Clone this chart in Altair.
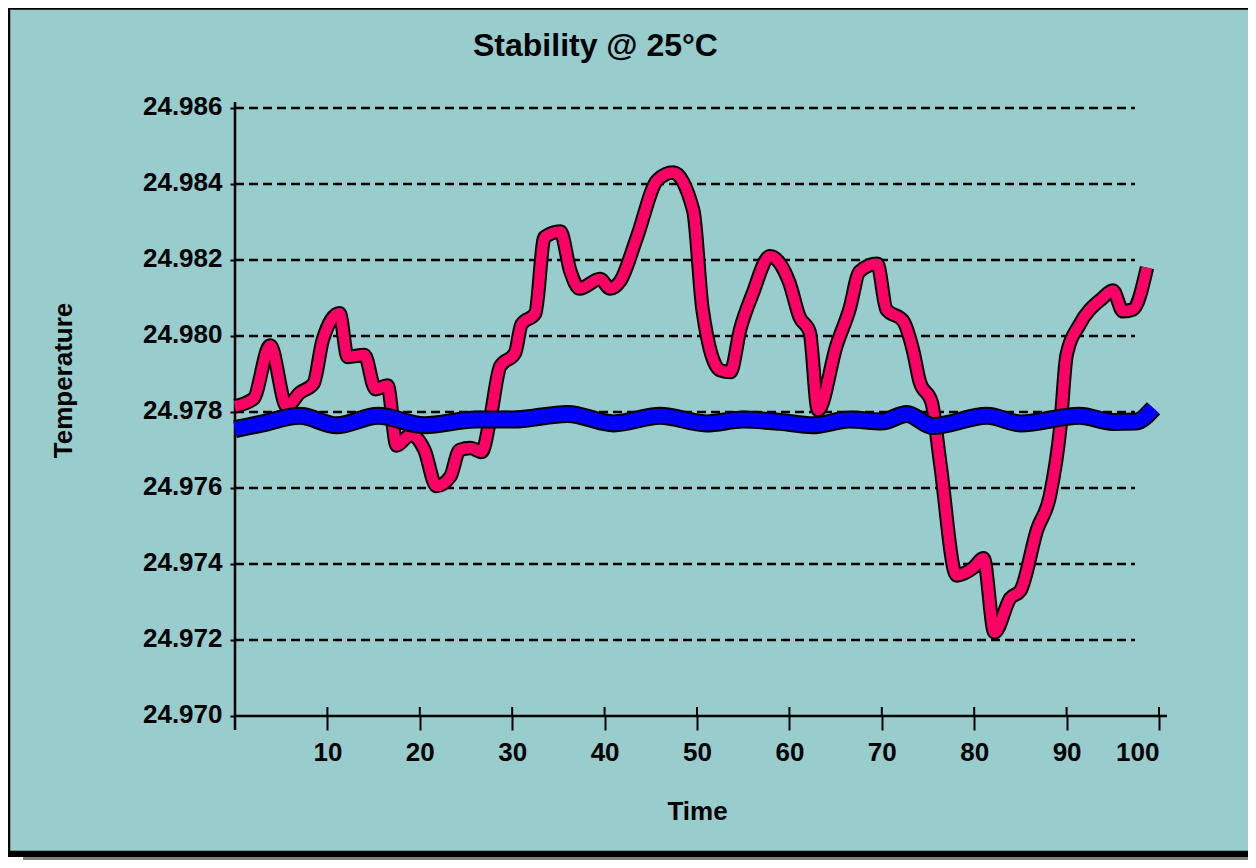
import altair as alt
import pandas as pd

# ---- data ----
red_t = [0, 2, 3.8, 5.6, 7, 8.5, 9.5, 11.3, 12.2, 14, 15.2, 16.5, 17.5, 19, 20.5, 21.8,
         23.3, 24.3, 25.5, 26.7, 27.6, 28.7, 30.3, 31, 32.5, 33.5, 35.2, 36.3, 37.3, 39.5,
         40.6, 41.7, 43.5, 45.7, 47.4, 49.6, 50.6, 52.5, 53.6, 54.7, 56, 57.9, 59, 60,
         61.1, 62.2, 63.1, 65.1, 66.5, 67.6, 69.5, 70.5, 72.3, 73.4, 74.1, 75.4, 76.3,
         78.1, 79.9, 81, 82.2, 83.9, 85, 86.8, 88.2, 89.3, 90, 91.4, 93.9, 95, 96.1, 97.2, 98.7]
red_v = [24.97815, 24.97835, 24.97975, 24.97815, 24.97850, 24.97875, 24.97990, 24.98060,
         24.97945, 24.97950, 24.97860, 24.97870, 24.97712, 24.97740, 24.97700, 24.97605,
         24.97630, 24.97700, 24.97705, 24.97695, 24.97780, 24.97920, 24.97955, 24.98030,
         24.98060, 24.98260, 24.98275, 24.98170, 24.98125, 24.98150, 24.98125, 24.98145,
         24.98260, 24.98410, 24.98430, 24.98330, 24.98070, 24.97910, 24.97905, 24.98020,
         24.98110, 24.98210, 24.98190, 24.98140, 24.98050, 24.98010, 24.97805, 24.97975,
         24.98070, 24.98170, 24.98190, 24.98070, 24.98040, 24.97960, 24.97880, 24.97825,
         24.97670, 24.97370, 24.97390, 24.97415, 24.97220, 24.97310, 24.97330, 24.97490,
         24.97580, 24.97755, 24.97950, 24.98030, 24.98100, 24.98120, 24.98065, 24.98070,
         24.98180]

blue_t = [0, 3, 7, 11, 15.5, 20.5, 26, 30, 36, 41, 46, 51, 55, 59, 62.5, 66.5, 70, 72.7,
          75.5, 81.4, 85, 91.4, 95, 97.5, 99.4]
blue_v = [24.97755, 24.97770, 24.97790, 24.97765, 24.97790, 24.97765, 24.97780, 24.97780,
          24.97795, 24.97770, 24.97790, 24.97770, 24.97780, 24.97774, 24.97765, 24.97780,
          24.97775, 24.97795, 24.97763, 24.97790, 24.97770, 24.97790, 24.97774, 24.97775,
          24.97810]

grid_values = [24.972, 24.974, 24.976, 24.978, 24.980, 24.982, 24.984, 24.986]
y_ticks = [24.970, 24.972, 24.974, 24.976, 24.978, 24.980, 24.982, 24.984, 24.986]
x_ticks = [10, 20, 30, 40, 50, 60, 70, 80, 90, 100]

title_text = "Stability @ 25°C"
x_title = "Time"
y_title = "Temperature"

# ---- layout ----
W, H = 924, 608
FONT = "Liberation Sans"
BG = "#99CCCC"

red_df = pd.DataFrame({"t": red_t, "v": red_v})
blue_df = pd.DataFrame({"t": blue_t, "v": blue_v})
grid_df = pd.DataFrame({"g": grid_values})
xt_df = pd.DataFrame({"xt": x_ticks})
yt_df = pd.DataFrame({"yt": y_ticks})
one = alt.Data(values=[{}])

xs = alt.Scale(domain=[0, 100], nice=False, zero=False)
ys = alt.Scale(domain=[24.970, 24.986], nice=False, zero=False)

x_axis = alt.Axis(values=x_ticks, tickSize=14, tickWidth=2, tickColor="black",
                  domain=False, grid=False, labelFont=FONT, labelFontSize=26,
                  labelFontWeight="bold", labelColor="black", labelPadding=22,
                  labelBaseline="middle", title=x_title, titleFont=FONT,
                  titleFontSize=26, titleFontWeight="bold", titleColor="black",
                  titleX=462, titleY=95, titleAlign="center", titleBaseline="middle",
                  zindex=1)
y_axis = alt.Axis(values=y_ticks, format=".3f", tickSize=5, tickWidth=2,
                  tickColor="black", domain=False, grid=False, labelFont=FONT,
                  labelFontSize=26, labelFontWeight="bold", labelColor="black",
                  labelPadding=8, labelOffset=-2, title=y_title, titleFont=FONT,
                  titleFontSize=26, titleFontWeight="bold", titleColor="black",
                  titleAngle=270, titleX=-172, titleY=272, titleAlign="center",
                  titleBaseline="middle", zindex=1)

X = alt.X("t:Q", scale=xs, axis=x_axis)
Y = alt.Y("v:Q", scale=ys, axis=y_axis)

# frame / shadow
shadow = alt.Chart(one).mark_rect(color="#808080").encode(
    x=alt.value(-212), x2=alt.value(1100), y=alt.value(-88), y2=alt.value(752))
band = alt.Chart(one).mark_rect(color="black").encode(
    x=alt.value(-227), x2=alt.value(1100), y=alt.value(-90), y2=alt.value(749))
panel = alt.Chart(one).mark_rect(fill=BG, stroke="black", strokeWidth=2.5).encode(
    x=alt.value(-226), x2=alt.value(1100), y=alt.value(-99.5), y2=alt.value(744))

title = alt.Chart(one).mark_text(text=title_text, font=FONT, fontSize=32,
                                 fontWeight="bold", color="black", align="left",
                                 baseline="alphabetic").encode(
    x=alt.value(238), y=alt.value(-52))

grid = alt.Chart(grid_df).mark_rule(color="black", strokeWidth=2.5,
                                    strokeDash=[9, 5]).encode(
    y=alt.Y("g:Q", scale=ys, axis=y_axis), x=alt.value(0), x2=alt.value(900))

x_line = alt.Chart(one).mark_rule(color="black", strokeWidth=2.5).encode(
    x=alt.value(0), x2=alt.value(932), y=alt.value(H))
y_line = alt.Chart(one).mark_rule(color="black", strokeWidth=2.5).encode(
    x=alt.value(0), y=alt.value(-6), y2=alt.value(H + 14))

x_tick_up = alt.Chart(xt_df).mark_rule(color="black", strokeWidth=2).encode(
    x=alt.X("xt:Q", scale=xs, axis=x_axis), y=alt.value(H - 9), y2=alt.value(H))
y_tick_right = alt.Chart(yt_df).mark_rule(color="black", strokeWidth=2).encode(
    y=alt.Y("yt:Q", scale=ys, axis=y_axis), x=alt.value(0), x2=alt.value(5))

red_out = alt.Chart(red_df).mark_line(color="black", strokeWidth=14.5,
                                      interpolate="monotone", strokeJoin="round").encode(x=X, y=Y)
red_in = alt.Chart(red_df).mark_line(color="#FF0066", strokeWidth=10.5,
                                     interpolate="monotone", strokeJoin="round").encode(x=X, y=Y)
blue_out = alt.Chart(blue_df).mark_line(color="black", strokeWidth=18,
                                        interpolate="monotone", strokeJoin="round").encode(x=X, y=Y)
blue_in = alt.Chart(blue_df).mark_line(color="#0000FF", strokeWidth=14,
                                       interpolate="monotone", strokeJoin="round").encode(x=X, y=Y)

chart = alt.layer(
    shadow, band, panel, title, grid, x_line, y_line, x_tick_up, y_tick_right,
    red_out, red_in, blue_out, blue_in
).properties(
    width=W, height=H,
    padding={"left": 227, "top": 100, "right": 89, "bottom": 144},
    autosize=alt.AutoSizeParams(type="none"),
    background="white",
).configure_view(stroke=None)

chart.save("out.html", embed_options={"renderer": "svg", "actions": False})
